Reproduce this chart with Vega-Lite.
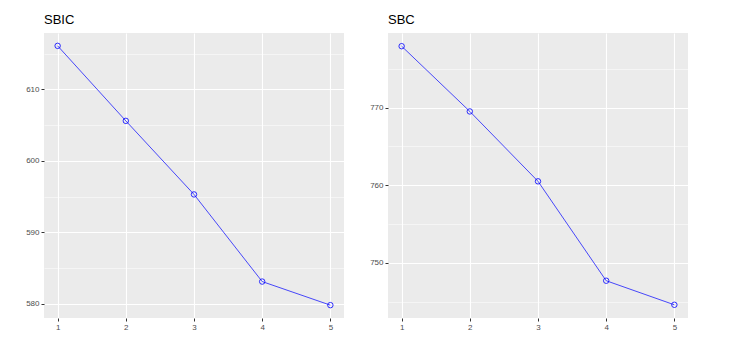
{
  "$schema": "https://vega.github.io/schema/vega-lite/v6.json",
  "autosize": {"type": "pad"},
  "padding": {"left": 14, "top": 14, "right": 0, "bottom": 0},
  "background": "white",
  "config": {
    "view": {"fill": "#EBEBEB", "stroke": null},
    "font": "Liberation Sans",
    "axis": {
      "domain": false,
      "gridColor": "white",
      "tickColor": "#333333",
      "tickSize": 3,
      "labelColor": "#4D4D4D",
      "labelFontSize": 8,
      "labelPadding": 2,
      "title": null,
      "labelOverlap": false
    },
    "axisY": {"minExtent": 30, "maxExtent": 30},
    "title": {"anchor": "start", "frame": "group", "fontSize": 13, "fontWeight": "normal", "color": "black", "offset": 6}
  },
  "datasets": {
    "d": [
      {"k": 1, "SBIC": 616.1, "SBC": 777.9},
      {"k": 2, "SBIC": 605.6, "SBC": 769.5},
      {"k": 3, "SBIC": 595.3, "SBC": 760.5},
      {"k": 4, "SBIC": 583.1, "SBC": 747.7},
      {"k": 5, "SBIC": 579.8, "SBC": 744.6}
    ]
  },
  "spacing": 14,
  "hconcat": [
    {
      "title": "SBIC",
      "width": 300,
      "height": 285,
      "data": {"name": "d"},
      "encoding": {
        "x": {"field": "k", "type": "quantitative",
          "scale": {"domain": [0.8, 5.2], "nice": false, "zero": false},
          "axis": {
            "values": [1, 1.5, 2, 2.5, 3, 3.5, 4, 4.5, 5],
            "format": "d",
            "labelExpr": "datum.value % 1 === 0 ? datum.label : ''",
            "gridWidth": {"condition": {"test": "datum.value % 1 === 0", "value": 1.1}, "value": 0.5},
            "tickOpacity": {"condition": {"test": "datum.value % 1 === 0", "value": 1}, "value": 0}
          }},
        "y": {"field": "SBIC", "type": "quantitative",
          "scale": {"domain": [578.0, 617.9], "nice": false, "zero": false},
          "axis": {
            "values": [580, 585, 590, 595, 600, 605, 610, 615],
            "labelExpr": "datum.value % 10 === 0 ? datum.label : ''",
            "gridWidth": {"condition": {"test": "datum.value % 10 === 0", "value": 1.1}, "value": 0.5},
            "tickOpacity": {"condition": {"test": "datum.value % 10 === 0", "value": 1}, "value": 0}
          }}
      },
      "layer": [
        {"mark": {"type": "line", "color": "#0000FF", "strokeWidth": 0.7}},
        {"mark": {"type": "point", "shape": "circle", "filled": false, "color": "#0000FF", "size": 30, "strokeWidth": 0.8, "opacity": 1}}
      ]
    },
    {
      "title": "SBC",
      "width": 300,
      "height": 285,
      "data": {"name": "d"},
      "encoding": {
        "x": {"field": "k", "type": "quantitative",
          "scale": {"domain": [0.8, 5.2], "nice": false, "zero": false},
          "axis": {
            "values": [1, 1.5, 2, 2.5, 3, 3.5, 4, 4.5, 5],
            "format": "d",
            "labelExpr": "datum.value % 1 === 0 ? datum.label : ''",
            "gridWidth": {"condition": {"test": "datum.value % 1 === 0", "value": 1.1}, "value": 0.5},
            "tickOpacity": {"condition": {"test": "datum.value % 1 === 0", "value": 1}, "value": 0}
          }},
        "y": {"field": "SBC", "type": "quantitative",
          "scale": {"domain": [742.9, 779.6], "nice": false, "zero": false},
          "axis": {
            "values": [745, 750, 755, 760, 765, 770, 775],
            "labelExpr": "datum.value % 10 === 0 ? datum.label : ''",
            "gridWidth": {"condition": {"test": "datum.value % 10 === 0", "value": 1.1}, "value": 0.5},
            "tickOpacity": {"condition": {"test": "datum.value % 10 === 0", "value": 1}, "value": 0}
          }}
      },
      "layer": [
        {"mark": {"type": "line", "color": "#0000FF", "strokeWidth": 0.7}},
        {"mark": {"type": "point", "shape": "circle", "filled": false, "color": "#0000FF", "size": 30, "strokeWidth": 0.8, "opacity": 1}}
      ]
    }
  ]
}
